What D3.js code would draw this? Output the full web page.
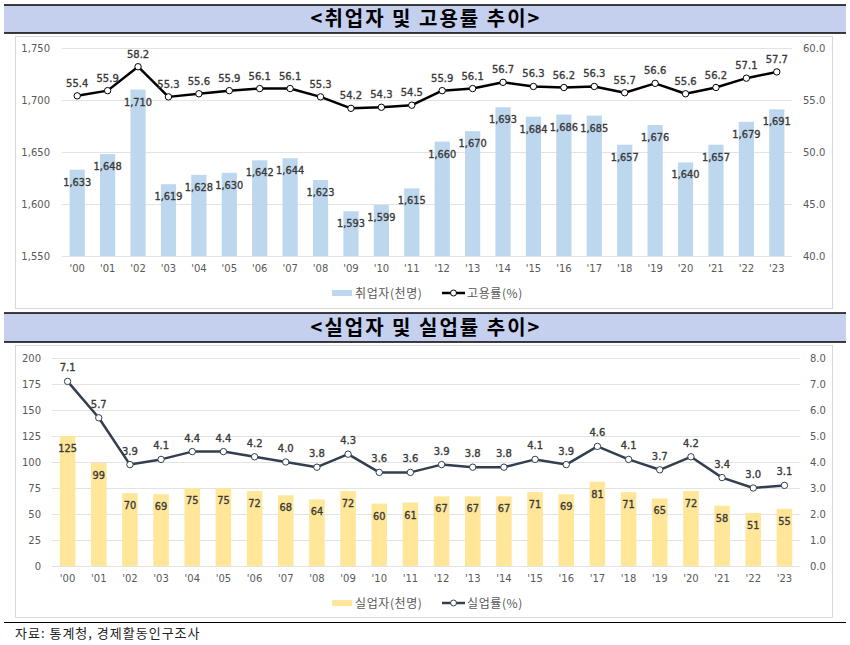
<!DOCTYPE html>
<html><head><meta charset="utf-8">
<script src="https://cdn.jsdelivr.net/npm/d3@7"></script>
<style>
html,body{margin:0;padding:0;background:#fff;}
svg{display:block;}
</style></head>
<body>
<svg id="c" width="850" height="645"></svg>
<script>
const years = ["'00","'01","'02","'03","'04","'05","'06","'07","'08","'09","'10","'11","'12","'13","'14","'15","'16","'17","'18","'19","'20","'21","'22","'23"];
const employed = [1633,1648,1710,1619,1628,1630,1642,1644,1623,1593,1599,1615,1660,1670,1693,1684,1686,1685,1657,1676,1640,1657,1679,1691];
const employmentRate = [55.4,55.9,58.2,55.3,55.6,55.9,56.1,56.1,55.3,54.2,54.3,54.5,55.9,56.1,56.7,56.3,56.2,56.3,55.7,56.6,55.6,56.2,57.1,57.7];
const unemployed = [125,99,70,69,75,75,72,68,64,72,60,61,67,67,67,71,69,81,71,65,72,58,51,55];
const unemploymentRate = [7.1,5.7,3.9,4.1,4.4,4.4,4.2,4.0,3.8,4.3,3.6,3.6,3.9,3.8,3.8,4.1,3.9,4.6,4.1,3.7,4.2,3.4,3.0,3.1];
const leftTicks1 = [1550,1600,1650,1700,1750];
const rightTicks1 = [40,45,50,55,60];
const leftTicks2 = [0,25,50,75,100,125,150,175,200];
const rightTicks2 = [0,1,2,3,4,5,6,7,8];
const titles = ["<취업자 및 고용률 추이>", "<실업자 및 실업률 추이>"];
const legend1 = ["취업자(천명)", "고용률(%)"];
const legend2 = ["실업자(천명)", "실업률(%)"];
const source = "자료: 통계청, 경제활동인구조사";

const svg = d3.select("#c");
const KR = "'Noto Sans CJK KR','Noto Sans',sans-serif";
const NUM = "'DejaVu Sans',Verdana,sans-serif";

function titleBar(y0, y1, text) {
  svg.append("rect").attr("x",4).attr("y",y0).attr("width",842).attr("height",y1-y0).attr("fill","#c5cfee");
  svg.append("line").attr("x1",4).attr("x2",846).attr("y1",y0).attr("y2",y0).attr("stroke","#000").attr("stroke-width",1.5);
  svg.append("line").attr("x1",4).attr("x2",846).attr("y1",y1).attr("y2",y1).attr("stroke","#000").attr("stroke-width",1.5);
  svg.append("text").attr("x",426).attr("y",(y0+y1)/2+7).attr("text-anchor","middle")
    .attr("font-family",KR).attr("font-weight",700).attr("font-size",20).attr("letter-spacing",2)
    .attr("fill","#000").text(text);
}

function chart(cfg) {
  const g = svg.append("g");
  g.append("rect").attr("x",15.5).attr("y",cfg.boxY+0.5).attr("width",817).attr("height",272)
    .attr("fill","#fff").attr("stroke","#d9d9d9");
  const x = d3.scaleBand().domain(years).range(cfg.xr).paddingInner(0.5).paddingOuter(0.25);
  const yl = d3.scaleLinear().domain(cfg.ld).range(cfg.yr);
  const yr = d3.scaleLinear().domain(cfg.rd).range(cfg.yr);
  g.selectAll(".grid").data(cfg.lt).join("line")
    .attr("x1",cfg.xr[0]).attr("x2",cfg.xr[1])
    .attr("y1",d=>Math.round(yl(d))+0.5).attr("y2",d=>Math.round(yl(d))+0.5)
    .attr("stroke","#e3e3e3").attr("stroke-width",1);
  const la = d3.axisLeft(yl).tickValues(cfg.lt).tickFormat(cfg.lf).tickSize(0);
  const lag = g.append("g").attr("transform",`translate(${cfg.lx},0)`).call(la);
  lag.select(".domain").remove();
  lag.selectAll("text").attr("font-family",NUM).attr("font-size",10).attr("fill","#595959").attr("x",0);
  const ra = d3.axisRight(yr).tickValues(cfg.rt).tickFormat(d3.format(".1f")).tickSize(0);
  const rag = g.append("g").attr("transform",`translate(${cfg.rx},0)`).call(ra);
  rag.select(".domain").remove();
  rag.selectAll("text").attr("font-family",NUM).attr("font-size",10).attr("fill","#595959").attr("x",0);
  const xa = d3.axisBottom(x).tickSize(0);
  const xag = g.append("g").attr("transform",`translate(0,${cfg.yr[0]})`).call(xa);
  xag.select(".domain").remove();
  xag.selectAll("text").attr("font-family",NUM).attr("font-size",10).attr("fill","#595959").attr("y",9);
  g.selectAll(".bar").data(cfg.bars).join("rect")
    .attr("x",(d,i)=>x(years[i])).attr("width",x.bandwidth())
    .attr("y",d=>yl(d)).attr("height",d=>cfg.yr[0]-yl(d)).attr("fill",cfg.barColor);
  g.selectAll(".bl").data(cfg.bars).join("text")
    .attr("x",(d,i)=>x(years[i])+x.bandwidth()/2).attr("y",d=>yl(d)+16)
    .attr("text-anchor","middle").attr("font-family",NUM).attr("font-size",9.8)
    .attr("fill","#3a3a3a").attr("stroke","#3a3a3a").attr("stroke-width",0.35).text(d=>cfg.bf(d));
  const line = d3.line().x((d,i)=>x(years[i])+x.bandwidth()/2).y(d=>yr(d));
  g.append("path").datum(cfg.line).attr("d",line).attr("fill","none")
    .attr("stroke",cfg.lineColor).attr("stroke-width",2.5).attr("stroke-linejoin","round");
  g.selectAll(".pt").data(cfg.line).join("circle")
    .attr("cx",(d,i)=>x(years[i])+x.bandwidth()/2).attr("cy",d=>yr(d)).attr("r",3.2)
    .attr("fill","#fff").attr("stroke",cfg.lineColor).attr("stroke-width",1);
  g.selectAll(".ll").data(cfg.line).join("text")
    .attr("x",(d,i)=>x(years[i])+x.bandwidth()/2).attr("y",d=>yr(d)-cfg.lblOff)
    .attr("text-anchor","middle").attr("font-family",NUM).attr("font-size",10)
    .attr("fill","#3a3a3a").attr("stroke","#3a3a3a").attr("stroke-width",0.35).text(d=>d.toFixed(1));
  const ly = cfg.legY;
  g.append("rect").attr("x",332).attr("y",ly-3).attr("width",20).attr("height",6).attr("fill",cfg.barColor);
  g.append("text").attr("x",355).attr("y",ly+4.5).attr("font-family",KR).attr("font-size",12).attr("letter-spacing",0.6).attr("fill","#595959").text(cfg.leg[0]);
  g.append("line").attr("x1",cfg.legLx).attr("x2",cfg.legLx+23).attr("y1",ly).attr("y2",ly).attr("stroke",cfg.lineColor).attr("stroke-width",2.5);
  g.append("circle").attr("cx",cfg.legLx+11.5).attr("cy",ly).attr("r",3).attr("fill","#fff").attr("stroke",cfg.lineColor).attr("stroke-width",1);
  g.append("text").attr("x",cfg.legLx+25).attr("y",ly+4.5).attr("font-family",KR).attr("font-size",12).attr("letter-spacing",0.6).attr("fill","#595959").text(cfg.leg[1]);
}

titleBar(5, 33, titles[0]);
chart({boxY:36, xr:[62,792], yr:[256,48], ld:[1550,1750], rd:[40,60], lt:leftTicks1, rt:rightTicks1,
  lf:d3.format(","), bf:d3.format(","), lx:50, rx:803, bars:employed, line:employmentRate,
  barColor:"#bdd7ee", lineColor:"#000", lblOff:9, legY:293, legLx:442, leg:legend1});

titleBar(313, 342, titles[1]);
chart({boxY:345, xr:[52,800], yr:[566,358], ld:[0,200], rd:[0,8], lt:leftTicks2, rt:rightTicks2,
  lf:d3.format("d"), bf:d3.format("d"), lx:41, rx:810, bars:unemployed, line:unemploymentRate,
  barColor:"#ffe699", lineColor:"#333f50", lblOff:10, legY:603, legLx:442, leg:legend2});

svg.append("line").attr("x1",4).attr("x2",846).attr("y1",622.5).attr("y2",622.5).attr("stroke","#000").attr("stroke-width",1.2);
svg.append("text").attr("x",15).attr("y",638).attr("font-family",KR).attr("font-size",13).attr("letter-spacing",1).attr("fill","#222").text(source);
</script>
</body></html>
